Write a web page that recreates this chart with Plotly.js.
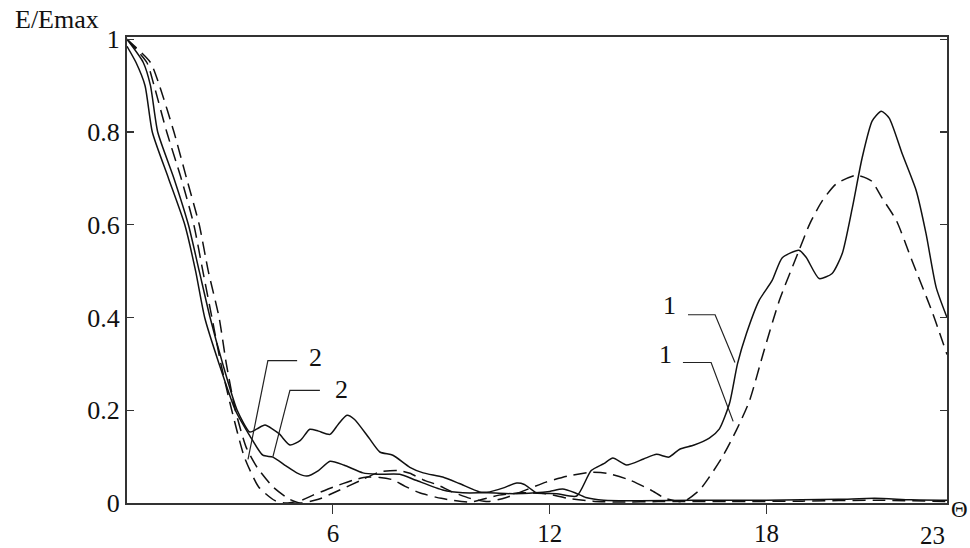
<!DOCTYPE html>
<html>
<head>
<meta charset="utf-8">
<script src="https://cdn.plot.ly/plotly-3.0.1.min.js"></script>
<style>html,body{margin:0;padding:0;background:#fff;}#chart{width:970px;height:548px;}</style>
</head>
<body>
<div id="chart"></div>
<script>
// Curve 1, solid
const s1X = [0.3,0.75,0.95,1.15,1.6,2.0,2.3,2.6,2.95,3.35,3.7,3.9,4.12,4.5,4.81,5.1,5.36,5.6,5.92,6.15,6.39,6.6,7.0,7.3,7.66,8.13,8.5,9.04,9.5,10.06,10.34,10.7,11.09,11.3,11.64,12.2,12.75,13.15,13.5,13.75,14.13,14.6,14.96,15.3,15.6,16.0,16.42,16.7,16.98,17.2,17.45,17.8,18.16,18.44,18.9,19.1,19.46,19.82,20.1,20.38,20.65,20.93,21.18,21.4,21.76,22.15,22.42,22.7,23.0];
const s1Y = [1.0,0.95,0.9,0.8,0.7,0.6,0.5,0.4,0.3,0.2,0.153,0.16,0.168,0.15,0.125,0.135,0.159,0.155,0.148,0.17,0.189,0.18,0.14,0.11,0.103,0.077,0.065,0.056,0.042,0.024,0.024,0.032,0.043,0.04,0.022,0.02,0.015,0.07,0.085,0.097,0.082,0.095,0.105,0.099,0.116,0.125,0.14,0.16,0.215,0.3,0.366,0.437,0.48,0.529,0.545,0.53,0.484,0.495,0.538,0.637,0.744,0.824,0.845,0.83,0.753,0.673,0.581,0.465,0.40];
// Curve 1, dashed
const d1X = [0.3,0.95,1.2,1.6,1.95,2.3,2.55,2.85,3.05,3.3,3.6,3.9,4.35,4.8,5.1,5.6,6.19,6.75,7.3,7.8,8.13,8.5,8.9,9.3,9.8,10.3,10.8,11.4,11.9,12.5,13.1,13.6,14.2,14.8,15.2,15.7,16.15,16.42,16.78,17.17,17.53,17.94,18.36,18.9,19.2,19.55,19.93,20.49,20.9,21.2,21.6,22.03,22.6,23.0];
const d1Y = [1.0,0.95,0.9,0.8,0.7,0.6,0.5,0.4,0.3,0.2,0.12,0.077,0.034,0.008,0.0,0.008,0.028,0.048,0.067,0.07,0.064,0.05,0.039,0.024,0.01,0.003,0.012,0.03,0.045,0.058,0.066,0.064,0.05,0.028,0.01,0.003,0.028,0.056,0.099,0.157,0.22,0.33,0.437,0.544,0.602,0.652,0.688,0.707,0.695,0.658,0.609,0.523,0.41,0.32];
// Curve 2, solid
const s2X = [0.3,0.55,0.8,1.0,1.45,1.9,2.2,2.45,2.85,3.3,3.7,4.06,4.34,4.7,5.0,5.28,5.6,5.92,6.3,6.83,7.22,7.85,8.3,9.04,9.6,10.3,11.0,11.6,12.0,12.36,12.7,13.0,13.5,14.5,16.0,18.0,20.0,21.0,22.0,23.0];
const s2Y = [0.985,0.95,0.9,0.8,0.7,0.6,0.5,0.4,0.3,0.2,0.145,0.103,0.099,0.08,0.065,0.058,0.07,0.09,0.082,0.065,0.062,0.062,0.049,0.028,0.022,0.022,0.02,0.022,0.025,0.03,0.022,0.012,0.006,0.005,0.006,0.006,0.008,0.01,0.007,0.006];
// Curve 2, dashed
const d2X = [0.3,0.85,1.05,1.4,1.8,2.15,2.4,2.65,2.9,3.2,3.55,3.95,4.4,4.7,5.1,5.45,6.0,6.55,6.94,7.3,7.66,8.0,8.4,9.0,9.8,10.6,11.2,11.9,12.5,13.2,14.0,15.0,17.0,19.0,21.0,23.0];
const d2Y = [1.0,0.95,0.9,0.8,0.7,0.6,0.5,0.4,0.3,0.2,0.099,0.034,0.005,0.0,0.005,0.017,0.034,0.049,0.056,0.055,0.05,0.036,0.022,0.01,0.002,0.017,0.022,0.02,0.01,0.004,0.002,0.003,0.003,0.004,0.006,0.003];

const xTickVals = [6, 12, 18];
const xTickText = ["6", "12", "18"];
const yTickVals = [0, 0.2, 0.4, 0.6, 0.8, 1];
const yTickText = ["0", "0.2", "0.4", "0.6", "0.8", "1"];

// curve labels: text, text position, leader start, knee, target (data units)
const labelText = ["2", "2", "1", "1"];
const labelPos = [[5.53,0.314],[6.25,0.245],[15.33,0.426],[15.22,0.320]];
const leaderStart = [[5.01,0.307],[5.64,0.243],[15.83,0.406],[15.69,0.303]];
const leaderKnee = [[4.20,0.307],[4.81,0.243],[16.58,0.406],[16.47,0.303]];
const leaderEnd = [[3.65,0.094],[4.34,0.100],[17.13,0.303],[17.08,0.176]];

const FONT = "'Liberation Serif', 'Times New Roman', Times, serif";
const solid = {color: "#111", width: 1.5, shape: "spline", smoothing: 0.6};
const dashed = {color: "#111", width: 1.5, shape: "spline", smoothing: 0.6, dash: "13px,7px"};

const traces = [
  {x: s1X, y: s1Y, mode: "lines", line: solid},
  {x: d1X, y: d1Y, mode: "lines", line: dashed},
  {x: s2X, y: s2Y, mode: "lines", line: solid},
  {x: d2X, y: d2Y, mode: "lines", line: dashed}
];

const shapes = labelText.map((t, i) => ({
  type: "path", xref: "x", yref: "y",
  path: "M" + leaderStart[i][0] + "," + leaderStart[i][1] + " L" + leaderKnee[i][0] + "," + leaderKnee[i][1] + " L" + leaderEnd[i][0] + "," + leaderEnd[i][1],
  line: {color: "#222", width: 1.2}
}));

const annotations = labelText.map((t, i) => ({
  text: t, x: labelPos[i][0], y: labelPos[i][1], xref: "x", yref: "y",
  showarrow: false, xanchor: "center", yanchor: "middle",
  font: {family: FONT, size: 26, color: "#111"}
}));
annotations.push({text: "E/Emax", xref: "paper", yref: "paper", x: -0.0855, y: 1.037,
  xanchor: "center", yanchor: "middle", showarrow: false, font: {family: FONT, size: 26, color: "#111"}});
annotations.push({text: "Θ", xref: "paper", yref: "paper", x: 1.0155, y: -0.015,
  xanchor: "center", yanchor: "middle", showarrow: false, font: {family: FONT, size: 23, color: "#111"}});
annotations.push({text: "23", xref: "x", yref: "paper", x: 23, y: -0.069,
  xanchor: "right", yanchor: "middle", showarrow: false, font: {family: FONT, size: 25, color: "#111"}});

const layout = {
  width: 970, height: 548,
  margin: {l: 127, r: 23, t: 37, b: 45},
  paper_bgcolor: "#fff", plot_bgcolor: "#fff",
  showlegend: false,
  xaxis: {
    range: [0.3, 23], showgrid: false, zeroline: false,
    showline: true, linecolor: "#333", linewidth: 2, mirror: true,
    ticks: "outside", ticklen: 9, tickwidth: 1.2, tickcolor: "#333",
    ticklabelstandoff: -2,
    tickvals: xTickVals, ticktext: xTickText,
    tickfont: {family: FONT, size: 25, color: "#111"}
  },
  yaxis: {
    range: [0, 1.005], showgrid: false, zeroline: false,
    showline: true, linecolor: "#333", linewidth: 2, mirror: "ticks",
    ticks: "inside", ticklen: 7, tickwidth: 1.2, tickcolor: "#333",
    tickvals: yTickVals, ticktext: yTickText,
    tickfont: {family: FONT, size: 26, color: "#111"}
  },
  shapes: shapes,
  annotations: annotations
};

Plotly.newPlot("chart", traces, layout, {displayModeBar: false, staticPlot: true});
</script>
</body>
</html>
